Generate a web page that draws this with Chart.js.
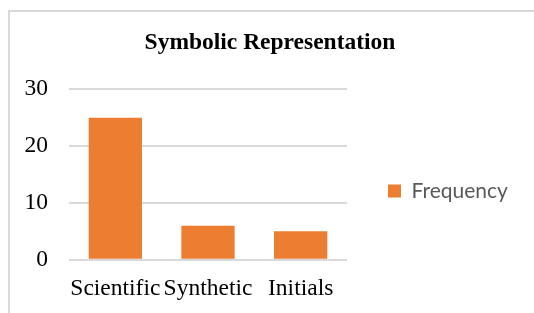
<!DOCTYPE html>
<html>
<head>
<meta charset="utf-8">
<script src="https://cdn.jsdelivr.net/npm/chart.js@4"></script>
<style>
  html, body { margin: 0; padding: 0; background: #fff; }
  #wrap { position: relative; width: 534px; height: 313px; overflow: hidden; }
  #frame {
    position: absolute; left: 8px; top: 10px; width: 600px; height: 400px;
    border-left: 2px solid #d9d9d9; border-top: 2px solid #d9d9d9;
  }
  canvas { position: absolute; left: 0; top: 0; }
</style>
</head>
<body>
<div id="wrap">
  <div id="frame"></div>
  <canvas id="chart" width="534" height="313"></canvas>
</div>
<script>
"use strict";

// Chart data.
const categories = ["Scientific", "Synthetic", "Initials"];
const frequency = [25, 6, 5];
const yTicks = [0, 10, 20, 30];

const SERIF = "'Liberation Serif', 'Times New Roman', serif";
const ORANGE = "#ed7d31";
const GRID = "#d9d9d9";

// Shift the title and legend boxes after layout so they sit where the
// original puts them (the legend also gets room so its text is not clipped).
const boxNudge = {
  id: "boxNudge",
  afterLayout(chart) {
    const lg = chart.legend;
    lg.left += 31;
    lg.right = lg.left + 180;
    lg.top += 32;
    lg.bottom += 32;

    const tt = chart.titleBlock;
    tt.left += 36;
    tt.right += 36;
  },
};

new Chart(document.getElementById("chart"), {
  type: "bar",
  data: {
    labels: categories,
    datasets: [
      {
        label: "Frequency",
        data: frequency,
        backgroundColor: ORANGE,
        barPercentage: 0.575,
        categoryPercentage: 1,
      },
    ],
  },
  plugins: [boxNudge],
  options: {
    responsive: false,
    animation: false,
    layout: { padding: { left: 8, right: 74, top: 0, bottom: -5 } },
    plugins: {
      title: {
        display: true,
        text: "Symbolic Representation",
        color: "#000",
        font: { family: SERIF, size: 23.5, weight: "bold" },
        padding: { top: 29, bottom: 32 },
      },
      legend: {
        position: "right",
        labels: {
          boxWidth: 13,
          boxHeight: 13,
          padding: 10,
          color: "#595959",
          font: { family: "Lato, 'Open Sans', sans-serif", size: 21 },
        },
      },
      tooltip: { enabled: false },
    },
    scales: {
      x: {
        grid: { display: false, drawTicks: false },
        border: { display: false },
        ticks: {
          color: "#000",
          padding: 15,
          autoSkip: false,
          maxRotation: 0,
          minRotation: 0,
          font: { family: SERIF, size: 23.5 },
        },
      },
      y: {
        min: yTicks[0],
        max: yTicks[yTicks.length - 1],
        afterBuildTicks: (scale) => {
          scale.ticks = yTicks.map((value) => ({ value }));
        },
        afterFit: (scale) => {
          scale.width = 61;
        },
        grid: { color: GRID, lineWidth: 2, drawTicks: false },
        border: { display: false },
        ticks: { color: "#000", padding: 21, font: { family: SERIF, size: 23.5 } },
      },
    },
  },
});
</script>
</body>
</html>
